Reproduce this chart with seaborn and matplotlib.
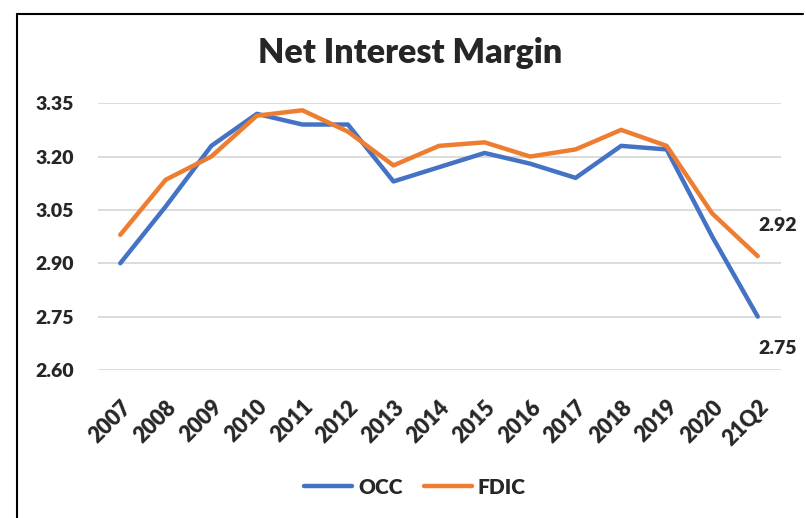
import matplotlib
matplotlib.use('Agg')
import pandas as pd
import seaborn as sns
import matplotlib.pyplot as plt
from matplotlib.lines import Line2D

# Data
periods = ['2007', '2008', '2009', '2010', '2011', '2012', '2013', '2014',
           '2015', '2016', '2017', '2018', '2019', '2020', '21Q2']
occ = [2.90, 3.06, 3.23, 3.32, 3.29, 3.29, 3.13, 3.17,
       3.21, 3.18, 3.14, 3.23, 3.22, 2.975, 2.75]
fdic = [2.98, 3.135, 3.20, 3.315, 3.33, 3.27, 3.175, 3.23,
        3.24, 3.20, 3.22, 3.275, 3.23, 3.04, 2.92]
y_ticks = [2.60, 2.75, 2.90, 3.05, 3.20, 3.35]

df = pd.DataFrame({
    'period': periods * 2,
    'value': occ + fdic,
    'series': ['OCC'] * len(periods) + ['FDIC'] * len(periods),
})

sns.set_style('white')
plt.rcParams['font.family'] = ['Lato', 'DejaVu Sans']
W = 'heavy'

fig = plt.figure(figsize=(8.06, 5.18), dpi=100)
ax = fig.add_axes([97.5 / 806, 1 - 370 / 518, 683 / 806, 267 / 518])

palette = {'OCC': '#4472C4', 'FDIC': '#ED7D31'}
sns.lineplot(data=df, x='period', y='value', hue='series', palette=palette,
             linewidth=3.2, sort=False, solid_capstyle='round', ax=ax)

# Axes and grid
ax.set_xlim(-0.5, len(periods) - 0.5)
ax.set_ylim(2.60, 3.3505)
ax.set_yticks(y_ticks)
ax.set_yticklabels([f'{v:.2f}' for v in y_ticks], fontsize=14, fontweight=W)
ax.set_xticks(range(len(periods)))
ax.set_xticklabels(periods, rotation=45, ha='right', rotation_mode='anchor',
                   fontsize=15.5, fontweight=W)
ax.tick_params(axis='y', length=0, pad=17)
ax.tick_params(axis='x', length=0, pad=19)
ax.grid(axis='y', color='#D9D9D9', linewidth=1.3)
ax.set_axisbelow(True)
for s in ax.spines.values():
    s.set_visible(False)
ax.set_xlabel('')
ax.set_ylabel('')

# Data labels for the last point
ax.annotate(f'{fdic[-1]:.2f}', xy=(len(periods) - 1, fdic[-1]), xytext=(20, 31),
            textcoords='offset pixels', ha='center', va='center',
            fontsize=14, fontweight=W, annotation_clip=False)
ax.annotate(f'{occ[-1]:.2f}', xy=(len(periods) - 1, occ[-1]), xytext=(20, -32),
            textcoords='offset pixels', ha='center', va='center',
            fontsize=14, fontweight=W, annotation_clip=False)

# Title
fig.text(410 / 806, 1 - 53 / 518, 'Net Interest Margin', ha='center', va='center',
         fontsize=24.5, fontweight=W)

# Legend at the bottom
ax.get_legend().remove()
handles = [Line2D([0], [0], color=palette[k], lw=3.2, solid_capstyle='round') for k in ['OCC', 'FDIC']]
fig.legend(handles, ['OCC', 'FDIC'], loc='center', bbox_to_anchor=(415 / 806, 1 - 487 / 518),
           ncol=2, frameon=False, handlelength=2.3, handletextpad=0.3,
           columnspacing=1.0, prop={'weight': W, 'size': 15})

# Chart border (left and top edges)
fig.add_artist(Line2D([17 / 806, 17 / 806], [0, 1 - 14 / 518], color='black', lw=1.5))
fig.add_artist(Line2D([17 / 806, 803 / 806], [1 - 14 / 518, 1 - 14 / 518], color='black', lw=1.5))

fig.savefig('out.png', dpi=100)
